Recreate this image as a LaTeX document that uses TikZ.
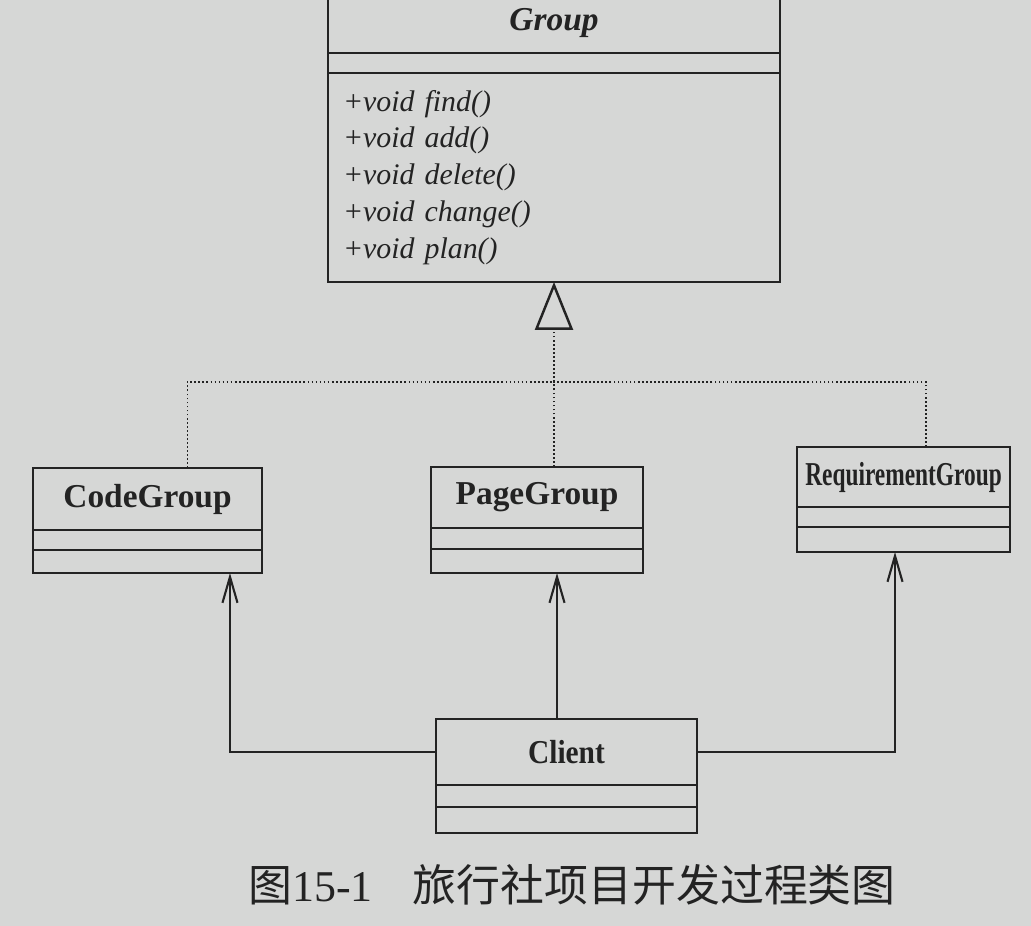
\documentclass[tikz,border=0pt]{standalone}
\usepackage{fontspec}
\setmainfont{Liberation Serif}
\newfontfamily\cjk{Noto Sans CJK SC}
\usetikzlibrary{arrows.meta,positioning}
\definecolor{paper}{RGB}{214,215,214}
\definecolor{ink}{RGB}{35,35,35}

\begin{document}
\begin{tikzpicture}[x=0.02cm,y=-0.02cm,ink,line width=1.4pt,
                    >={Straight Barb[length=0.52cm,width=0.3cm]}]
  \tikzstyle{umlname}=[draw,outer sep=0pt,inner sep=0pt,
                       font=\fontsize{19}{23}\selectfont\bfseries]
  \tikzstyle{umlpart}=[draw,outer sep=0pt,inner sep=0pt]
  \tikzstyle{realize}=[line width=0.9pt,dash pattern=on 1pt off 1.3pt]

  \clip (0,0) rectangle (1031,926);
  \fill[paper] (0,0) rectangle (1031,926);

  % Group
  \node[umlname,minimum width=9.04cm,minimum height=1.2cm,
        font=\fontsize{19}{23}\selectfont\bfseries\itshape] (grp) at (554,23) {Group};
  \node[umlpart,minimum width=9.04cm,minimum height=0.4cm,below=0pt of grp] (grpa) {};
  \node[umlpart,minimum width=9.04cm,minimum height=4.18cm,below=0pt of grpa,
        text width=8.44cm,inner xsep=0.3cm,align=left,
        font=\fontsize{17}{21}\selectfont\itshape] (grpm)
       {+void find()\\+void add()\\+void delete()\\+void change()\\+void plan()};

  % CodeGroup
  \node[umlname,minimum width=4.58cm,minimum height=1.24cm] (code) at (147.5,499) {CodeGroup};
  \node[umlpart,minimum width=4.58cm,minimum height=0.4cm,below=0pt of code] (codea) {};
  \node[umlpart,minimum width=4.58cm,minimum height=0.46cm,below=0pt of codea] (codem) {};

  % PageGroup
  \node[umlname,minimum width=4.24cm,minimum height=1.22cm] (page) at (537,497.5) {PageGroup};
  \node[umlpart,minimum width=4.24cm,minimum height=0.42cm,below=0pt of page] (pagea) {};
  \node[umlpart,minimum width=4.24cm,minimum height=0.48cm,below=0pt of pagea] (pagem) {};

  % RequirementGroup
  \node[umlname,minimum width=4.26cm,minimum height=1.2cm] (req) at (903.5,477)
       {\scalebox{0.7}[1]{RequirementGroup}};
  \node[umlpart,minimum width=4.26cm,minimum height=0.4cm,below=0pt of req] (reqa) {};
  \node[umlpart,minimum width=4.26cm,minimum height=0.5cm,below=0pt of reqa] (reqm) {};

  % Client
  \node[umlname,minimum width=5.22cm,minimum height=1.32cm] (cli) at (566.5,752)
       {\scalebox{0.88}[1]{Client}};
  \node[umlpart,minimum width=5.22cm,minimum height=0.44cm,below=0pt of cli] (clia) {};
  \node[umlpart,minimum width=5.22cm,minimum height=0.52cm,below=0pt of clia] (clim) {};

  % realization
  \coordinate[below=2cm of grpm.south] (jn);
  \draw[realize] ([xshift=0.8cm]code.north) |- (jn);
  \draw[realize] ([xshift=0.45cm]req.north) |- (jn);
  \draw[realize] (jn |- page.north) -- (jn);
  \draw[realize,-{Triangle[open,length=0.96cm,width=0.76cm,line width=1.4pt]}] (jn) -- (grpm.south);

  % association
  \draw[line width=1.2pt,->] (cli.west) -| ([xshift=1.65cm]codem.south);
  \draw[line width=1.2pt,->] ([xshift=-0.19cm]cli.north) -- ([xshift=-0.19cm]cli.north |- pagem.south);
  \draw[line width=1.2pt,->] (cli.east) -| ([xshift=-0.17cm]reqm.south);

  \node (cap) at (572,885) {\fontsize{25}{28}\selectfont{\cjk 图}15-1\hspace{0.8cm}{\cjk 旅行社项目开发过程类图}};

\end{tikzpicture}
\end{document}
